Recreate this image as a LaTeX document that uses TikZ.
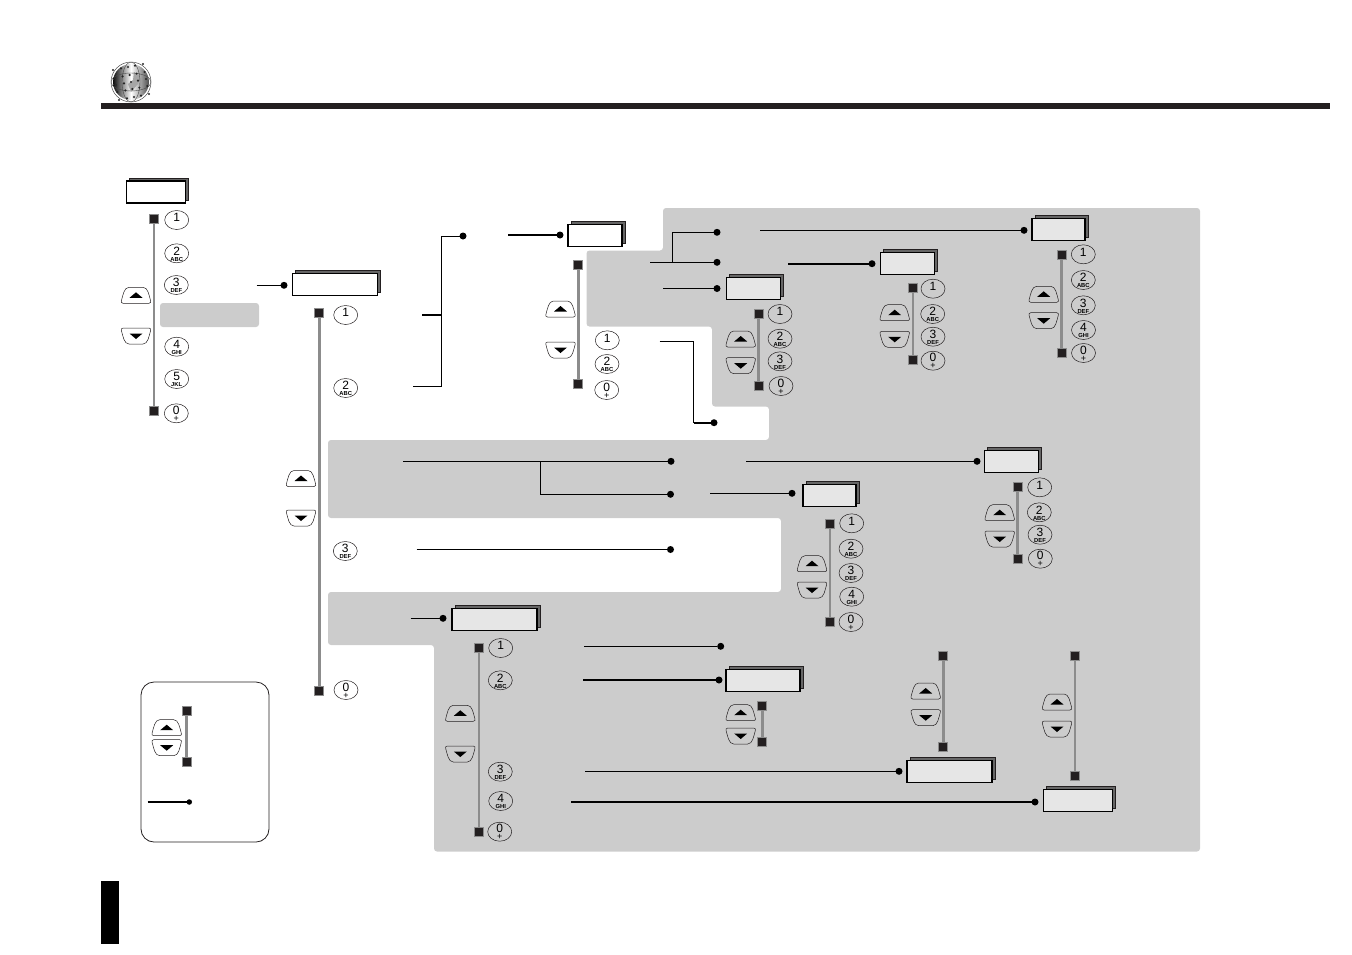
\documentclass[tikz,border=0pt]{standalone}
\usepackage{fontspec}
\setmainfont{Liberation Sans}
\usetikzlibrary{shapes.geometric,shadows}
\definecolor{panelgray}{HTML}{CCCCCC}
\definecolor{boxgray}{HTML}{E6E6E6}
\definecolor{shadowgray}{HTML}{666666}
\definecolor{bargray}{HTML}{8C8C8C}
\definecolor{inkblack}{HTML}{231F20}
\newcommand{\keytxt}[2]{\makebox[0pt]{\raisebox{-1.7pt}[0pt][0pt]{\fontsize{12}{12}\selectfont #1}}\makebox[0pt]{\raisebox{-7.8pt}[0pt][0pt]{\fontsize{5.8}{6}\selectfont\bfseries #2}}}
\newcommand{\plustxt}[1]{\makebox[0pt]{\raisebox{-1.2pt}[0pt][0pt]{\fontsize{12}{12}\selectfont #1}}\makebox[0pt]{\raisebox{-8.2pt}[0pt][0pt]{\fontsize{9}{9}\selectfont +}}}
\tikzset{
  menubox/.style={draw=black,line width=1.2,fill=white,inner sep=0,outer sep=0,minimum height=22,
    copy shadow={shadow xshift=3.2pt,shadow yshift=3.2pt,fill=shadowgray,draw=inkblack,line width=.5}},
  greybox/.style={menubox,fill=boxgray},
  numkey/.style={draw=inkblack,line width=.5,ellipse,inner sep=0,outer sep=0,minimum width=24,minimum height=19},
  stopsq/.style={draw=bargray,line width=1.3,fill=inkblack,inner sep=0,outer sep=0,minimum size=9},
  scrollbar/.style={draw=bargray,line width=2.5},
  pointdot/.style={circle,fill=black,inner sep=0,outer sep=0,minimum size=7},
  link/.style={draw=black,line width=1},
  heavylink/.style={draw=black,line width=2},
  upkey/.pic={
    \draw[inkblack,line width=.5] (-13,8) -- (13,8) .. controls (15,8) and (15,6.5) .. (14.5,5)
      .. controls (13,0) and (12,-8) .. (7,-8) -- (-7,-8) .. controls (-12,-8) and (-13,0) .. (-14.5,5)
      .. controls (-15,6.5) and (-15,8) .. (-13,8) -- cycle;
    \fill[black] (-6.5,2.5) -- (6.5,2.5) -- (0,-3) -- cycle;
  },
  downkey/.pic={\pic[yscale=-1]{upkey};}
}
\begin{document}
\begin{tikzpicture}[x=1pt,y=-1pt]
\useasboundingbox (0,0) rectangle (1352,954);

\fill[panelgray,rounded corners=3] (663,208) -- (1200,208) -- (1200,851.5) -- (434,851.5) -- (434,645) -- (328,645)
  -- (328,592) -- (781,592) -- (781,518) -- (328,518) -- (328,440) -- (769,440) -- (769,406.5) -- (712,406.5)
  -- (712,326.5) -- (586.5,326.5) -- (586.5,250.5) -- (663,250.5) -- cycle;
\fill[panelgray,rounded corners=3] (160,303) rectangle (259,327);
\draw[inkblack,line width=.8,rounded corners=13] (141,682) rectangle (269,842);

\fill[inkblack] (101,103) rectangle (1330,109);
\fill[black] (101,881) rectangle (119,944);

\shade[left color=black!95,right color=black!70,middle color=white] (131,82) circle (18);
\fill[black!35] (134,72) -- (141,76) -- (138,84) -- (131,92) -- (128,84) -- (133,80) -- cycle;
\draw[black!70,line width=.5] (131,82) circle (20);
\draw[black!70,line width=.4] (131,82) ellipse (9 and 20);
\draw[black!70,line width=.4] (131,82) ellipse (20 and 9);
\foreach \gx in {-15,-7,0,7,15}
  \foreach \gy in {-15,-7,0,7,15}
    \fill[black!85] (131+\gx+.2*\gy,82+\gy-.2*\gx) circle (1.2);

\node[menubox,minimum width=59] (box1) at (156,192) {};
\node[menubox,minimum width=85] (box2) at (335,284.5) {};
\node[menubox,minimum width=54] (box3) at (595,235.5) {};
\node[greybox,minimum width=54] (box4) at (753.5,288.5) {};
\node[greybox,minimum width=54] (box5) at (907.5,263.5) {};
\node[greybox,minimum width=53] (box6) at (1058.5,229.5) {};
\node[greybox,minimum width=54] (box7) at (1011.5,461.5) {};
\node[greybox,minimum width=53] (box8) at (829.5,495.5) {};
\node[greybox,minimum width=85] (box9) at (494.5,619.5) {};
\node[greybox,minimum width=74] (box10) at (763,680.5) {};
\node[greybox,minimum width=85] (box11) at (949.5,771.5) {};
\node[greybox,minimum width=69] (box12) at (1078,800.5) {};

\node[pointdot] (d1) at (284,285.3) {};
\node[pointdot] (d2) at (463,236) {};
\node[pointdot] (d3) at (560,235) {};
\node[pointdot] (d4) at (717,232.3) {};
\node[pointdot] (d5) at (717,262.3) {};
\node[pointdot] (d6) at (717,288.5) {};
\node[pointdot] (d7) at (714,422.7) {};
\node[pointdot] (d8) at (1024,230.3) {};
\node[pointdot] (d9) at (872,263.7) {};
\node[pointdot] (d10) at (671,461.3) {};
\node[pointdot] (d11) at (670.5,494.3) {};
\node[pointdot] (d12) at (977,461.3) {};
\node[pointdot] (d13) at (792,493.3) {};
\node[pointdot] (d14) at (670.5,549.5) {};
\node[pointdot] (d15) at (443,618.3) {};
\node[pointdot] (d16) at (720.7,646.3) {};
\node[pointdot] (d17) at (719,680) {};
\node[pointdot] (d18) at (899,771.3) {};
\node[pointdot] (d19) at (1035,802) {};
\node[pointdot,minimum size=5.5] (d20) at (189.3,802) {};

\coordinate (c1) at (256.5,285.3);
\coordinate (c2) at (413,386);
\coordinate (c3) at (441,386);
\coordinate (c4) at (441,236);
\coordinate (c5) at (422,315);
\coordinate (c6) at (441,315);
\coordinate (c7) at (508,235);
\coordinate (c8) at (650,262.3);
\coordinate (c9) at (672.5,262.3);
\coordinate (c10) at (672.5,232.3);
\coordinate (c11) at (663,288.5);
\coordinate (c12) at (659.5,341.3);
\coordinate (c13) at (693.7,341.3);
\coordinate (c14) at (693.7,422.7);
\coordinate (c15) at (760.3,230.3);
\coordinate (c16) at (788,263.7);
\coordinate (c17) at (403,461.3);
\coordinate (c18) at (540.5,461.3);
\coordinate (c19) at (540.5,494.3);
\coordinate (c20) at (746,461.3);
\coordinate (c21) at (710,493.3);
\coordinate (c22) at (416.5,549.5);
\coordinate (c23) at (410.7,618.3);
\coordinate (c24) at (584.3,646.3);
\coordinate (c25) at (583,680);
\coordinate (c26) at (585,771.3);
\coordinate (c27) at (571,802);
\coordinate (c28) at (147.7,802);

\draw[link] (c1) -- (d1);
\draw[link] (c2) -- (c3) -- (c4) -- (d2);
\draw[heavylink] (c5) -- (c6);
\draw[link,line width=1.5] (c7) -- (d3);
\draw[link] (c8) -- (d5);
\draw[link] (c9) -- (c10) -- (d4);
\draw[link] (c11) -- (d6);
\draw[link] (c12) -- (c13) -- (c14);
\draw[heavylink] (c14) -- (d7);
\draw[link] (c15) -- (d8);
\draw[heavylink] (c16) -- (d9);
\draw[link] (c17) -- (d10);
\draw[link] (c18) -- (c19) -- (d11);
\draw[link] (c20) -- (d12);
\draw[link] (c21) -- (d13);
\draw[link] (c22) -- (d14);
\draw[link] (c23) -- (d15);
\draw[link] (c24) -- (d16);
\draw[heavylink] (c25) -- (d17);
\draw[link] (c26) -- (d18);
\draw[heavylink] (c27) -- (d19);
\draw[heavylink,line width=1.6] (c28) -- (d20);

\node[stopsq] (s1a) at (154,218.7) {};
\node[stopsq] (s1b) at (154,410.7) {};
\node[stopsq] (s2a) at (319.3,313.3) {};
\node[stopsq] (s2b) at (319.3,691) {};
\node[stopsq] (s3a) at (578.3,264.7) {};
\node[stopsq] (s3b) at (578.3,384) {};
\node[stopsq] (s4a) at (758.7,313.7) {};
\node[stopsq] (s4b) at (758.7,386) {};
\node[stopsq] (s5a) at (913,288) {};
\node[stopsq] (s5b) at (913,360.3) {};
\node[stopsq] (s6a) at (1061.7,254.7) {};
\node[stopsq] (s6b) at (1061.7,353) {};
\node[stopsq] (s7a) at (1017.7,486.7) {};
\node[stopsq] (s7b) at (1017.7,559.3) {};
\node[stopsq] (s8a) at (830,523.7) {};
\node[stopsq] (s8b) at (830,622) {};
\node[stopsq] (s9a) at (479,648.3) {};
\node[stopsq] (s9b) at (479,831.7) {};
\node[stopsq] (s10a) at (762.3,705.7) {};
\node[stopsq] (s10b) at (762.3,742) {};
\node[stopsq] (s11a) at (943.3,656) {};
\node[stopsq] (s11b) at (943.3,747.3) {};
\node[stopsq] (s12a) at (1075,656) {};
\node[stopsq] (s12b) at (1075,776.3) {};
\node[stopsq] (s13a) at (186.7,711.3) {};
\node[stopsq] (s13b) at (186.7,761.7) {};

\draw[scrollbar] (s1a) -- (s1b);
\draw[scrollbar] (s2a) -- (s2b);
\draw[scrollbar] (s3a) -- (s3b);
\draw[scrollbar] (s4a) -- (s4b);
\draw[scrollbar] (s5a) -- (s5b);
\draw[scrollbar] (s6a) -- (s6b);
\draw[scrollbar] (s7a) -- (s7b);
\draw[scrollbar] (s8a) -- (s8b);
\draw[scrollbar] (s9a) -- (s9b);
\draw[scrollbar] (s10a) -- (s10b);
\draw[scrollbar] (s11a) -- (s11b);
\draw[scrollbar] (s12a) -- (s12b);
\draw[scrollbar] (s13a) -- (s13b);

\node[numkey] (k1a) at (176.7,220) {\keytxt{1}{}};
\node[numkey] (k1b) at (176.7,253.3) {\keytxt{2}{ABC}};
\node[numkey] (k1c) at (176.3,285) {\keytxt{3}{DEF}};
\node[numkey] (k1d) at (176.7,346.7) {\keytxt{4}{GHI}};
\node[numkey] (k1e) at (176.7,379) {\keytxt{5}{JKL}};
\node[numkey] (k1f) at (176.3,413.3) {\plustxt{0}};

\node[numkey] (k2a) at (345.7,315) {\keytxt{1}{}};
\node[numkey] (k2b) at (345.7,388) {\keytxt{2}{ABC}};
\node[numkey] (k2c) at (345.3,551) {\keytxt{3}{DEF}};
\node[numkey] (k2d) at (346,690) {\plustxt{0}};

\node[numkey] (k3a) at (607.3,340.3) {\keytxt{1}{}};
\node[numkey] (k3b) at (607,364) {\keytxt{2}{ABC}};
\node[numkey] (k3c) at (606.7,390) {\plustxt{0}};

\node[numkey] (k4a) at (780,314) {\keytxt{1}{}};
\node[numkey] (k4b) at (780,338.7) {\keytxt{2}{ABC}};
\node[numkey] (k4c) at (780,361.3) {\keytxt{3}{DEF}};
\node[numkey] (k4d) at (781,386) {\plustxt{0}};

\node[numkey] (k5a) at (933,288.7) {\keytxt{1}{}};
\node[numkey] (k5b) at (932.7,314) {\keytxt{2}{ABC}};
\node[numkey] (k5c) at (933,336.7) {\keytxt{3}{DEF}};
\node[numkey] (k5d) at (933,360.7) {\plustxt{0}};

\node[numkey] (k6a) at (1083.3,254.3) {\keytxt{1}{}};
\node[numkey] (k6b) at (1083.3,280) {\keytxt{2}{ABC}};
\node[numkey] (k6c) at (1083.3,305.3) {\keytxt{3}{DEF}};
\node[numkey] (k6d) at (1083.5,330) {\keytxt{4}{GHI}};
\node[numkey] (k6e) at (1083.5,353) {\plustxt{0}};

\node[numkey] (k7a) at (1039.7,487.3) {\keytxt{1}{}};
\node[numkey] (k7b) at (1039.3,512.3) {\keytxt{2}{ABC}};
\node[numkey] (k7c) at (1040,534.7) {\keytxt{3}{DEF}};
\node[numkey] (k7d) at (1040.3,558.7) {\plustxt{0}};

\node[numkey] (k8a) at (851.7,523.3) {\keytxt{1}{}};
\node[numkey] (k8b) at (851,548.7) {\keytxt{2}{ABC}};
\node[numkey] (k8c) at (851,573) {\keytxt{3}{DEF}};
\node[numkey] (k8d) at (851.7,596.7) {\keytxt{4}{GHI}};
\node[numkey] (k8e) at (851,622) {\plustxt{0}};

\node[numkey] (k9a) at (500.7,648) {\keytxt{1}{}};
\node[numkey] (k9b) at (500.3,680.3) {\keytxt{2}{ABC}};
\node[numkey] (k9c) at (500.3,771.7) {\keytxt{3}{DEF}};
\node[numkey] (k9d) at (500.7,801) {\keytxt{4}{GHI}};
\node[numkey] (k9e) at (499.7,831.7) {\plustxt{0}};

\pic at (136,295.3) {upkey};
\pic at (136,336) {downkey};
\pic at (301,478.5) {upkey};
\pic at (301,518) {downkey};
\pic at (560.5,309) {upkey};
\pic at (560.5,350) {downkey};
\pic at (740.7,339) {upkey};
\pic at (740.7,365.7) {downkey};
\pic at (894.7,312.7) {upkey};
\pic at (894.7,339.3) {downkey};
\pic at (1043.7,294.3) {upkey};
\pic at (1043.7,320.7) {downkey};
\pic at (999.7,512.7) {upkey};
\pic at (999.7,539) {downkey};
\pic at (812,563.7) {upkey};
\pic at (812,590) {downkey};
\pic at (460.3,713.3) {upkey};
\pic at (460.3,754) {downkey};
\pic at (740.7,712.7) {upkey};
\pic at (740.7,736) {downkey};
\pic at (925.7,691) {upkey};
\pic at (925.7,717.7) {downkey};
\pic at (1057,702) {upkey};
\pic at (1057,729) {downkey};
\pic at (166.7,727.7) {upkey};
\pic at (166.7,747.7) {downkey};
\end{tikzpicture}
\end{document}
